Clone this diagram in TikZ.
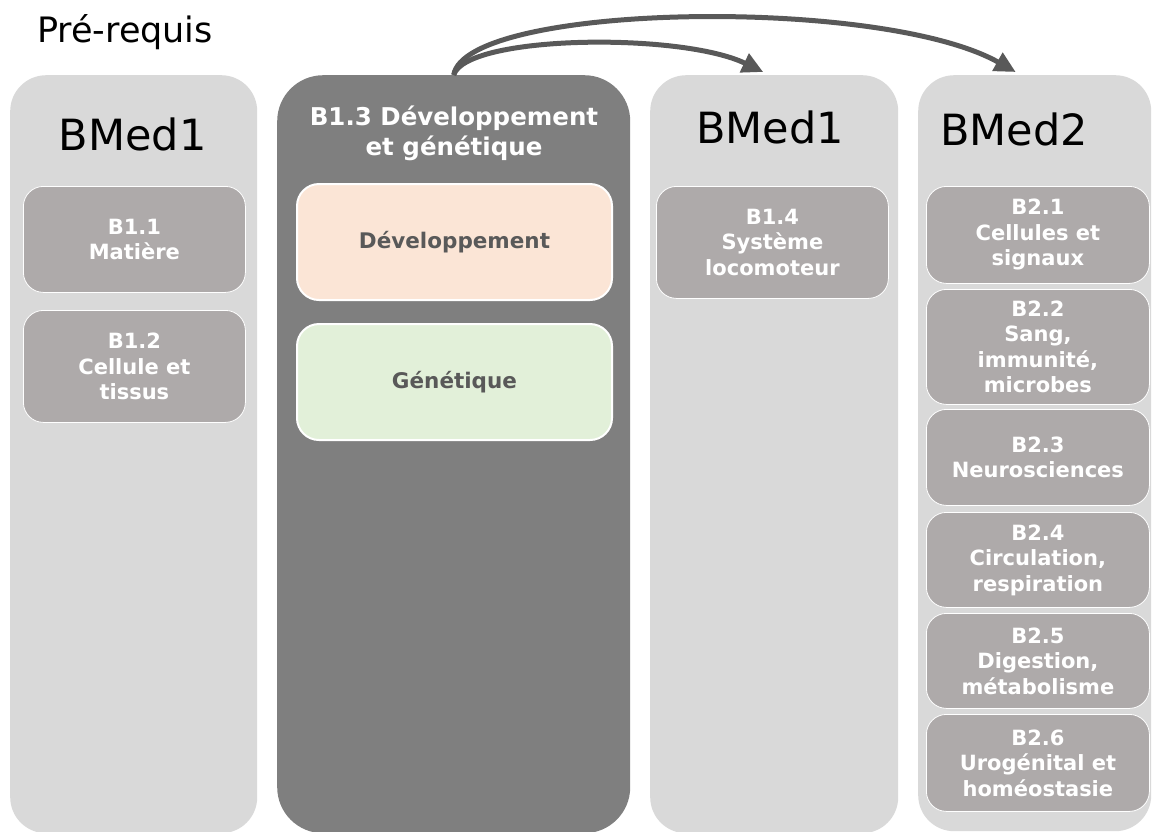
\documentclass[tikz,border=0pt]{standalone}
\usepackage{fontspec}
\setmainfont{DejaVu Sans}
\usetikzlibrary{arrows.meta}

\definecolor{colLight}{HTML}{D9D9D9}
\definecolor{colDark}{HTML}{7F7F7F}
\definecolor{unitGray}{HTML}{AEAAAA}
\definecolor{devPink}{HTML}{FBE5D6}
\definecolor{genGreen}{HTML}{E2F0D9}
\definecolor{inkGray}{HTML}{595959}

\tikzset{
  column/.style={fill=colLight, rounded corners=36pt, anchor=north west, inner sep=0pt},
  title/.style={anchor=base, font=\fontsize{43}{50}\selectfont, text=black},
  unit/.style={draw=white, line width=0.8pt, fill=unitGray, rounded corners=20pt,
    anchor=north west, inner sep=0pt, text=white, align=center,
    font=\fontsize{21}{25.5}\selectfont\bfseries},
  part/.style={draw=white, line width=2pt, rounded corners=22pt, anchor=north west,
    inner sep=0pt, text=inkGray, font=\fontsize{21.5}{25}\selectfont\bfseries,
    minimum width=315pt, minimum height=116pt},
  link/.style={draw=inkGray, line width=5pt, -{Triangle[length=21pt,width=20pt]}}
}

\begin{document}
\begin{tikzpicture}[x=1pt, y=-1pt]
\useasboundingbox (0,0) rectangle (1152,831);
\clip (0,0) rectangle (1152,831);

\node[anchor=base, font=\fontsize{35}{40}\selectfont] (pre) at (125,42) {Pré-requis};

% columns
\node[column, minimum width=247pt, minimum height=758pt] (c1) at (10,75) {};
\node[column, fill=colDark, rounded corners=46pt, minimum width=353pt, minimum height=758pt] (c2) at (277,75) {};
\node[column, minimum width=248pt, minimum height=758pt] (c3) at (650,75) {};
\node[column, minimum width=233pt, minimum height=756pt] (c4) at (918,75) {};

% titles
\node[title] (t1) at (132.5,150) {BMed1};
\node[title] (t3) at (770,143) {BMed1};
\node[title] (t4) at (1014,145) {BMed2};
\node[anchor=north, inner sep=0pt, align=center, text=white, font=\fontsize{24.5}{30}\selectfont\bfseries] (t2) at (454,106)
  {B1.3 Développement\\et génétique};

% BMed1 (pre-requis)
\node[unit, minimum width=222pt, minimum height=106pt] (b11) at (23,186) {B1.1\\Matière};
\node[unit, minimum width=222pt, minimum height=112pt] (b12) at (23,310) {B1.2\\Cellule et\\tissus};

% B1.3
\node[part, fill=devPink] (dev) at (296,183) {Développement};
\node[part, fill=genGreen] (gen) at (296,323) {Génétique};

% BMed1
\node[unit, minimum width=232pt, minimum height=112pt] (b14) at (656,186) {B1.4\\Système\\locomoteur};

% BMed2
\node[unit, minimum width=223pt, minimum height=97pt] (b21) at (926,186) {B2.1\\Cellules et\\signaux};
\node[unit, minimum width=223pt, minimum height=115pt] (b22) at (926,289) {B2.2\\Sang,\\immunité,\\microbes};
\node[unit, minimum width=223pt, minimum height=96pt] (b23) at (926,409) {B2.3\\Neurosciences};
\node[unit, minimum width=223pt, minimum height=95pt] (b24) at (926,512) {B2.4\\Circulation,\\respiration};
\node[unit, minimum width=223pt, minimum height=95pt] (b25) at (926,613) {B2.5\\Digestion,\\métabolisme};
\node[unit, minimum width=223pt, minimum height=97pt] (b26) at (926,714) {B2.6\\Urogénital et\\homéostasie};

% links
\draw[link] (c2.north) .. controls +(12,-40) and +(-83,-40) .. ([xshift=-11pt,yshift=3pt]c3.north);
\draw[link] (c2.north) .. controls +(12,-72) and +(-135,-76) .. ([xshift=-19pt,yshift=3pt]c4.north);
\end{tikzpicture}
\end{document}
